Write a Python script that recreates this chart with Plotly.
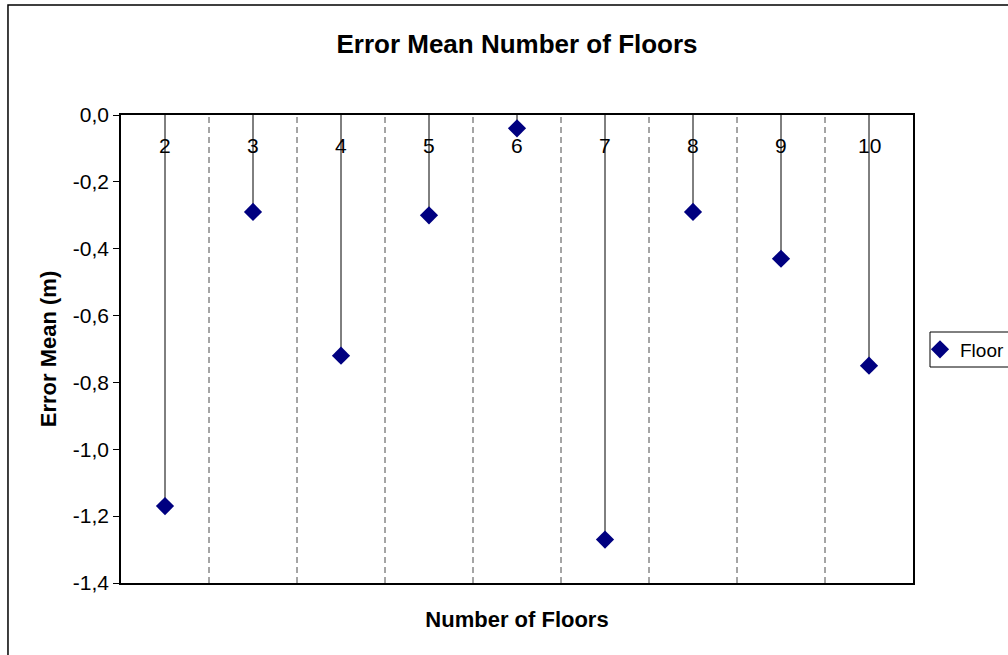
import plotly.graph_objects as go

# Mean error per building height
floors = ["2", "3", "4", "5", "6", "7", "8", "9", "10"]
error_mean = [-1.17, -0.29, -0.72, -0.30, -0.04, -1.27, -0.29, -0.43, -0.75]

y_ticks = [0.0, -0.2, -0.4, -0.6, -0.8, -1.0, -1.2, -1.4]
y_tick_text = ["0,0", "-0,2", "-0,4", "-0,6", "-0,8", "-1,0", "-1,2", "-1,4"]

FONT = "Liberation Sans, Arial, sans-serif"
MARK = "#000080"

# drop lines from the zero axis down to each point
stem_x, stem_y = [], []
for f, v in zip(floors, error_mean):
    stem_x += [f, f, None]
    stem_y += [0, v, None]

fig = go.Figure()
fig.add_trace(go.Scatter(
    x=stem_x, y=stem_y, mode="lines",
    line=dict(color="black", width=1),
    hoverinfo="skip", showlegend=False,
))
fig.add_trace(go.Scatter(
    x=floors, y=error_mean, mode="markers", name="Floor",
    marker=dict(symbol="diamond", size=14, color=MARK),
))

# category labels sit just under the zero line (index positions on the category axis)
for i, f in enumerate(floors):
    fig.add_annotation(
        x=i, y=-0.09, xref="x", yref="y", text=f, showarrow=False,
        font=dict(family=FONT, size=21, color="black"),
    )

# dashed separators between categories
for i in range(len(floors) - 1):
    fig.add_shape(
        type="line", xref="x", yref="paper",
        x0=i + 0.5, x1=i + 0.5, y0=0, y1=1,
        line=dict(color="#4a4a4a", width=1, dash="6px,4px"),
    )

# outer chart frame
fig.add_shape(
    type="rect", xref="paper", yref="paper",
    x0=-0.1427, x1=1.125, y0=-0.17, y1=1.235,
    line=dict(color="black", width=1.5),
)

# legend box
fig.add_shape(
    type="rect", xref="paper", yref="paper",
    x0=(930 - 121) / 792, x1=(1015 - 121) / 792,
    y0=(583 - 367) / 468, y1=(583 - 332) / 468,
    line=dict(color="black", width=1), fillcolor="white", layer="below",
)

fig.update_layout(
    width=1008, height=655,
    margin=dict(l=121, r=95, t=115, b=72, autoexpand=False),
    paper_bgcolor="white", plot_bgcolor="white",
    font=dict(family=FONT, size=21, color="black"),
    title=dict(
        text="<b>Error Mean Number of Floors</b>",
        x=(517 / 1008), xanchor="center", y=1 - 44 / 655, yanchor="middle",
        font=dict(family=FONT, size=26, color="black"),
    ),
    xaxis=dict(
        type="category", range=[-0.5, len(floors) - 0.5],
        showticklabels=False, ticks="", showgrid=False, zeroline=False,
        showline=True, linecolor="black", linewidth=1.5, mirror=True,
        automargin=False,
        title=dict(text="<b>Number of Floors</b>", standoff=28,
                   font=dict(family=FONT, size=22)),
    ),
    yaxis=dict(
        range=[-1.4, 0], tickvals=y_ticks, ticktext=y_tick_text,
        ticks="outside", ticklen=6, tickcolor="black",
        showgrid=False, zeroline=False,
        showline=True, linecolor="black", linewidth=1.5, mirror=True,
        automargin=False,
        tickfont=dict(family=FONT, size=21),
        title=dict(text="<b>Error Mean (m)</b>", standoff=10,
                   font=dict(family=FONT, size=22)),
    ),
    showlegend=True,
    legend=dict(
        x=(920 - 121) / 792, y=(583 - 349.5) / 468, xanchor="left", yanchor="middle",
        borderwidth=0, bgcolor="rgba(0,0,0,0)",
        font=dict(family=FONT, size=19),
        itemwidth=30,
    ),
)

fig.write_html("out.html")
